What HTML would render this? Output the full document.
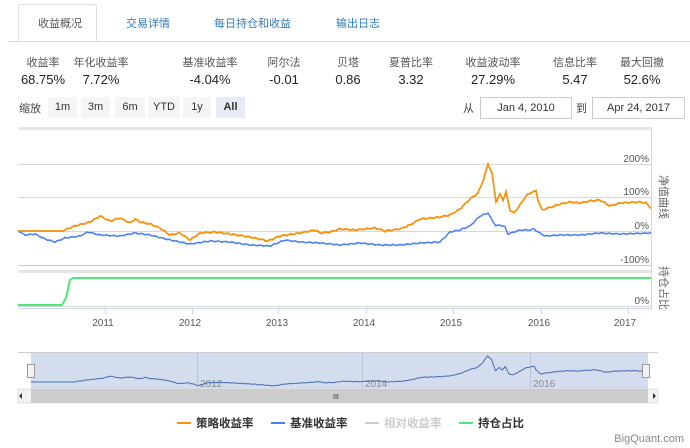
<!DOCTYPE html>
<html><head><meta charset="utf-8"><style>
body{margin:0;width:690px;height:448px;background:#fff;font-family:"Liberation Sans","Noto Sans CJK SC",sans-serif;position:relative;overflow:hidden;color:#333}
.a{position:absolute;white-space:nowrap}
.tab{font-size:11px;color:#337ab7;top:15px}
.lab{font-size:11px;color:#555;top:54px;transform:translateX(-50%)}
.val{font-size:13px;color:#222;top:72px;transform:translateX(-50%)}
.btn{top:97px;height:21px;line-height:21px;font-size:11px;background:#f5f5f5;text-align:center;color:#333}
.inp{top:97px;height:20px;border:1px solid #ccc;font-size:11px;line-height:20px;text-align:center}
</style></head><body>
<div class="a" style="left:18px;top:4px;width:77px;height:37px;border:1px solid #ddd;border-bottom:none;border-radius:3px 3px 0 0;background:#fff"></div>
<div class="a tab" style="left:38px;color:#555">收益概况</div>
<div class="a tab" style="left:126px">交易详情</div>
<div class="a tab" style="left:214px">每日持仓和收益</div>
<div class="a tab" style="left:336px">输出日志</div>
<div class="a" style="left:8px;top:41px;width:682px;height:1px;background:#ddd"></div>
<div class="a lab" style="left:43px">收益率</div><div class="a val" style="left:43px">68.75%</div>
<div class="a lab" style="left:101px">年化收益率</div><div class="a val" style="left:101px">7.72%</div>
<div class="a lab" style="left:210px">基准收益率</div><div class="a val" style="left:210px">-4.04%</div>
<div class="a lab" style="left:284px">阿尔法</div><div class="a val" style="left:284px">-0.01</div>
<div class="a lab" style="left:348px">贝塔</div><div class="a val" style="left:348px">0.86</div>
<div class="a lab" style="left:411px">夏普比率</div><div class="a val" style="left:411px">3.32</div>
<div class="a lab" style="left:493px">收益波动率</div><div class="a val" style="left:493px">27.29%</div>
<div class="a lab" style="left:575px">信息比率</div><div class="a val" style="left:575px">5.47</div>
<div class="a lab" style="left:642px">最大回撤</div><div class="a val" style="left:642px">52.6%</div>
<div class="a" style="left:19px;top:100px;font-size:11px;color:#444">缩放</div>
<div class="a btn" style="left:48px;width:29px">1m</div>
<div class="a btn" style="left:81px;width:29px">3m</div>
<div class="a btn" style="left:115px;width:30px">6m</div>
<div class="a btn" style="left:148px;width:32px">YTD</div>
<div class="a btn" style="left:183px;width:28px">1y</div>
<div class="a btn" style="left:216px;width:29px;background:#e6ebf5;font-weight:bold">All</div>
<div class="a" style="left:463px;top:100px;font-size:11px;color:#444">从</div>
<div class="a inp" style="left:480px;width:90px">Jan 4, 2010</div>
<div class="a" style="left:576px;top:100px;font-size:11px;color:#444">到</div>
<div class="a inp" style="left:592px;width:91px">Apr 24, 2017</div>
<svg class="a" style="left:0;top:0" width="690" height="448">
<rect x="19" y="127" width="633" height="3" fill="#e6e6e6"/>
<g stroke="#d8d8d8" stroke-width="1">
<line x1="18" y1="164.5" x2="651" y2="164.5"/><line x1="18" y1="197.5" x2="651" y2="197.5"/>
<line x1="18" y1="231.5" x2="651" y2="231.5"/><line x1="18" y1="265.5" x2="651" y2="265.5" stroke="#ccc"/>
<line x1="18" y1="306.5" x2="651" y2="306.5"/>
</g>
<rect x="18" y="270" width="633" height="3" fill="#e6e6e6"/>
<line x1="651.5" y1="129" x2="651.5" y2="310" stroke="#ccd6eb"/>
<line x1="18" y1="308.5" x2="651" y2="308.5" stroke="#ccd6eb"/>
<g stroke="#ccd6eb"><line x1="105.5" y1="309" x2="105.5" y2="314"/><line x1="192.5" y1="309" x2="192.5" y2="314"/><line x1="278.5" y1="309" x2="278.5" y2="314"/><line x1="366.5" y1="309" x2="366.5" y2="314"/><line x1="453.5" y1="309" x2="453.5" y2="314"/><line x1="541.5" y1="309" x2="541.5" y2="314"/><line x1="628.5" y1="309" x2="628.5" y2="314"/></g>
<g font-size="10" fill="#555" text-anchor="end">
<text x="649" y="162">200%</text><text x="649" y="195">100%</text><text x="649" y="229">0%</text><text x="649" y="263">-100%</text><text x="649" y="304">0%</text></g>
<g font-size="10" fill="#555" text-anchor="middle">
<text x="103" y="326">2011</text><text x="190" y="326">2012</text><text x="277" y="326">2013</text><text x="364" y="326">2014</text><text x="451" y="326">2015</text><text x="539" y="326">2016</text><text x="625" y="326">2017</text></g>
<g font-size="11" fill="#666" font-family="Noto Sans CJK SC,sans-serif">
<text transform="translate(660,175) rotate(90)">净值曲线</text>
<text transform="translate(660,266) rotate(90)">持仓占比</text></g>
<polyline points="18,305 62,305 66,298 70,280 73,278 651,278" fill="none" stroke="#50e678" stroke-width="2"/>
<polyline id="ob" fill="none" stroke="#4a7ff0" stroke-width="1.5"/>
<polyline id="oo" fill="none" stroke="#f5900a" stroke-width="1.7"/>
<line x1="18" y1="352.5" x2="658" y2="352.5" stroke="#ccc"/>
<rect x="31" y="353" width="617" height="36" fill="#c8d4ea" fill-opacity="0.8"/>
<g stroke="#b8c4dc"><line x1="197.5" y1="353" x2="197.5" y2="389"/><line x1="362.5" y1="353" x2="362.5" y2="389"/><line x1="530.5" y1="353" x2="530.5" y2="389"/></g>
<g font-size="10" fill="#888"><text x="200" y="387">2012</text><text x="365" y="387">2014</text><text x="533" y="387">2016</text></g>
<polyline id="nv" fill="none" stroke="#4a6bb5" stroke-width="1"/>
<rect x="18" y="389" width="640" height="14" fill="#f2f2f2" stroke="#ddd"/>
<rect x="31" y="389" width="617" height="14" fill="#ccc"/>
<text x="333" y="399" font-size="7" fill="#333">III</text>
<path d="M22 393 L22 399 L19 396Z M653 393 L653 399 L656 396Z" fill="#333"/>
<rect x="27.5" y="364.5" width="7" height="13" fill="#f2f2f2" stroke="#999"/>
<rect x="642.5" y="364.5" width="7" height="13" fill="#f2f2f2" stroke="#999"/>
<g stroke-width="2"><line x1="177" y1="423" x2="191" y2="423" stroke="#f5900a"/><line x1="271" y1="423" x2="285" y2="423" stroke="#4a7ff0"/><line x1="365" y1="423" x2="379" y2="423" stroke="#ccc"/><line x1="459" y1="423" x2="473" y2="423" stroke="#50e678"/></g>
<g font-size="11.5" font-weight="bold" fill="#333" font-family="Noto Sans CJK SC,sans-serif"><text x="196" y="427">策略收益率</text><text x="290" y="427">基准收益率</text><text x="384" y="427" fill="#ccc">相对收益率</text><text x="478" y="427">持仓占比</text></g>
<text x="684" y="442" text-anchor="end" font-size="11" fill="#888">BigQuant.com</text>
</svg>
<script>
var O=[[18,231],[62,231],[75,226],[90,222],[100,216],[110,221],[120,218],[130,223],[135,219],[140,222],[150,224],[160,228],[170,235],[180,233],[190,240],[200,233],[215,232],[230,234],[250,237],[268,241],[280,236],[300,233],[315,230],[320,233],[330,232],[340,229],[355,230],[375,228],[385,231],[400,229],[410,225],[420,219],[432,218],[440,217],[450,215],[460,209],[470,199],[478,193],[483,181],[488,164],[492,173],[496,202],[500,194],[503,200],[506,192],[510,210],[514,213],[520,205],[526,196],[532,192],[536,191],[538,200],[542,210],[548,208],[555,206],[560,204],[570,202],[580,203],[590,201],[600,200],[610,206],[620,203],[640,202],[646,203],[651,208]];
var B=[[18,231],[25,235],[35,234],[45,239],[55,242],[65,238],[80,236],[88,232],[100,235],[120,236],[135,233],[150,235],[170,240],[190,244],[210,241],[230,242],[250,245],[270,246],[285,240],[300,242],[320,243],[340,245],[360,243],[380,245],[400,245],[420,243],[440,242],[450,232],[460,230],[470,226],[480,216],[488,213],[492,220],[496,226],[500,225],[505,227],[508,234],[520,230],[530,230],[534,229],[538,232],[545,236],[560,235],[580,235],[600,233],[620,234],[651,233]];
function f(P,x){for(var i=1;i<P.length;i++)if(x<=P[i][0]){var a=P[i-1],b=P[i];return a[1]+(b[1]-a[1])*(x-a[0])/(b[0]-a[0]);}return P[P.length-1][1];}
function n(x,k){return (Math.sin(x*0.9+k)*0.5+Math.sin(x*2.3+k*2)*0.35);}
var o=[],b=[],v=[];
for(var x=18;x<=651;x+=1){var yo=f(O,x)+(x>62?n(x,1):0),yb=f(B,x)+(x>20?n(x,3)*0.8:0);o.push(x+','+yo.toFixed(1));b.push(x+','+yb.toFixed(1));v.push((31+(x-18)*615/633).toFixed(1)+','+(382+(yo-231)*0.39).toFixed(1));}
document.getElementById('oo').setAttribute('points',o.join(' '));
document.getElementById('ob').setAttribute('points',b.join(' '));
document.getElementById('nv').setAttribute('points',v.join(' '));
</script>
</body></html>
